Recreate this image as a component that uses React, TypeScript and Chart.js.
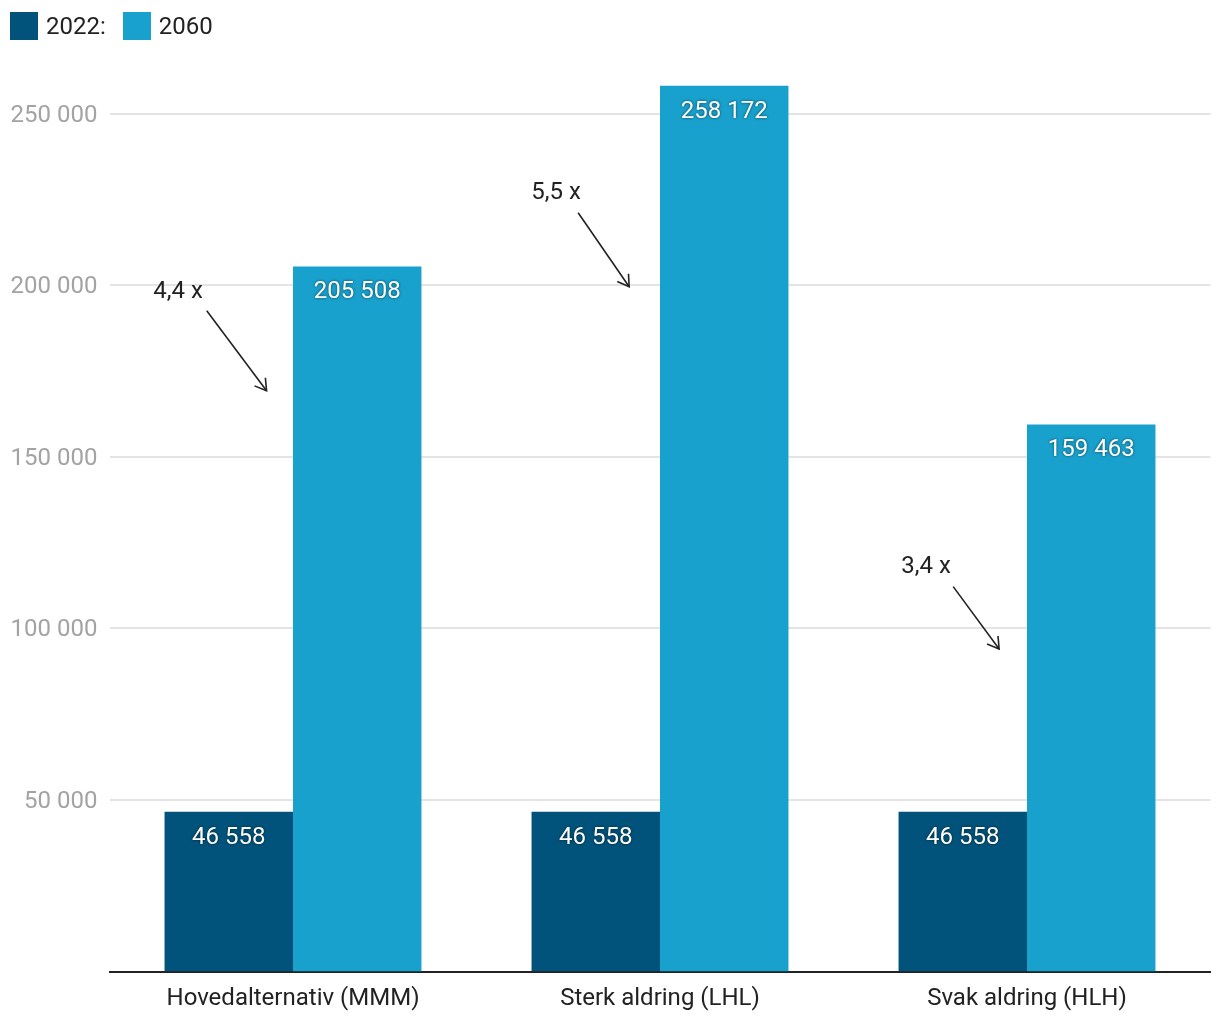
import React, { useEffect, useRef } from "react";
import { Chart, registerables } from "chart.js";

Chart.register(...registerables);

const categories = ["Hovedalternativ (MMM)", "Sterk aldring (LHL)", "Svak aldring (HLH)"];
const seriesNames = ["2022:", "2060"];
const values2022 = [46558, 46558, 46558];
const values2060 = [205508, 258172, 159463];
const yTicks = [50000, 100000, 150000, 200000, 250000];
const ratioLabels = ["4,4 x", "5,5 x", "3,4 x"];

const COLORS = ["#02537b", "#19a1cd"];
const FONT = "Roboto, 'Noto Sans', sans-serif";

// annotation placement (category offset, value)
const annotations = [
  { text: { dx: -0.313, y: 198700 }, from: { dx: -0.235, y: 192600 }, to: { dx: -0.072, y: 169300 } },
  { text: { dx: -0.283, y: 227570 }, from: { dx: -0.223, y: 221160 }, to: { dx: -0.084, y: 199600 } },
  { text: { dx: -0.275, y: 118590 }, from: { dx: -0.201, y: 112180 }, to: { dx: -0.076, y: 94030 } },
];

const fmt = (v: number) => String(Math.round(v)).replace(/\B(?=(\d{3})+(?!\d))/g, " ");

const labelPlugin = {
  id: "barLabels",
  afterDatasetsDraw(chart: any) {
    const ctx = chart.ctx;
    ctx.save();
    ctx.font = `24px ${FONT}`;
    ctx.fillStyle = "#ffffff";
    ctx.textAlign = "center";
    ctx.textBaseline = "middle";
    ctx.shadowColor = "rgba(0,0,0,0.6)";
    ctx.shadowBlur = 3;
    chart.data.datasets.forEach((ds: any, di: number) => {
      const meta = chart.getDatasetMeta(di);
      meta.data.forEach((bar: any, i: number) => {
        ctx.fillText(fmt(ds.data[i]), bar.x, bar.y + 26);
      });
    });
    ctx.restore();
  },
};

const arrowPlugin = {
  id: "ratioArrows",
  afterDatasetsDraw(chart: any) {
    const ctx = chart.ctx;
    const xs = chart.scales.x;
    const ys = chart.scales.y;
    ctx.save();
    annotations.forEach((a, i) => {
      const tx = xs.getPixelForValue(i + a.text.dx);
      const ty = ys.getPixelForValue(a.text.y);
      ctx.font = `24px ${FONT}`;
      ctx.fillStyle = "#222222";
      ctx.textAlign = "center";
      ctx.textBaseline = "middle";
      ctx.fillText(ratioLabels[i], tx, ty + 2);
      const x1 = xs.getPixelForValue(i + a.from.dx);
      const y1 = ys.getPixelForValue(a.from.y);
      const x2 = xs.getPixelForValue(i + a.to.dx);
      const y2 = ys.getPixelForValue(a.to.y);
      ctx.strokeStyle = "#222222";
      ctx.lineWidth = 1.6;
      ctx.beginPath();
      ctx.moveTo(x1, y1);
      ctx.lineTo(x2, y2);
      ctx.stroke();
      const ang = Math.atan2(y2 - y1, x2 - x1);
      const L = 13;
      ctx.beginPath();
      ctx.moveTo(x2 + L * Math.cos(ang + Math.PI - 0.55), y2 + L * Math.sin(ang + Math.PI - 0.55));
      ctx.lineTo(x2, y2);
      ctx.lineTo(x2 + L * Math.cos(ang + Math.PI + 0.55), y2 + L * Math.sin(ang + Math.PI + 0.55));
      ctx.stroke();
    });
    ctx.restore();
  },
};

export default function App() {
  const ref = useRef<HTMLCanvasElement | null>(null);
  useEffect(() => {
    if (!ref.current) return;
    const chart = new Chart(ref.current, {
      type: "bar",
      data: {
        labels: categories,
        datasets: [
          { label: seriesNames[0], data: values2022, backgroundColor: COLORS[0], categoryPercentage: 0.7, barPercentage: 1.0 },
          { label: seriesNames[1], data: values2060, backgroundColor: COLORS[1], categoryPercentage: 0.7, barPercentage: 1.0 },
        ],
      },
      options: {
        animation: false,
        responsive: false,
        maintainAspectRatio: false,
        layout: { padding: { top: 79.5, right: 9.5, bottom: 0, left: 0 } },
        plugins: { legend: { display: false }, tooltip: { enabled: false } },
        scales: {
          x: {
            grid: { display: false, drawTicks: false },
            border: { display: true, color: "#222222", width: 2 },
            ticks: { color: "#222222", font: { family: FONT, size: 24 }, padding: 13 },
            afterFit: (s: any) => { s.height = 48.5; },
          },
          y: {
            min: 0,
            max: 260000,
            grid: { color: "#e4e4e4", lineWidth: 2, drawTicks: false },
            border: { display: false },
            ticks: {
              stepSize: 50000,
              color: "#a3a3a3",
              font: { family: FONT, size: 24 },
              padding: 12,
              labelOffset: 2,
              callback: (v: any) => fmt(Number(v)),
            },
            afterBuildTicks: (s: any) => {
              s.ticks = yTicks.map((v) => ({ value: v }));
            },
            afterFit: (s: any) => { s.width = 109.5; },
          },
        },
      },
      plugins: [labelPlugin, arrowPlugin],
    });
    return () => chart.destroy();
  }, []);

  return (
    <div style={{ position: "absolute", left: 0, top: 0, width: 1220, height: 1020, background: "#fff", fontFamily: FONT }}>
      <canvas ref={ref} width={1220} height={1020} style={{ position: "absolute", left: 0, top: 0 }} />
      <div style={{ position: "absolute", left: 10, top: 12, display: "flex", alignItems: "center", fontSize: 24, color: "#222" }}>
        {seriesNames.map((n, i) => (
          <div key={n} style={{ display: "flex", alignItems: "center", marginRight: i === 0 ? 17 : 0 }}>
            <span style={{ display: "inline-block", width: 28, height: 28, background: COLORS[i], marginRight: 8 }} />
            <span style={{ lineHeight: "28px" }}>{n}</span>
          </div>
        ))}
      </div>
    </div>
  );
}
